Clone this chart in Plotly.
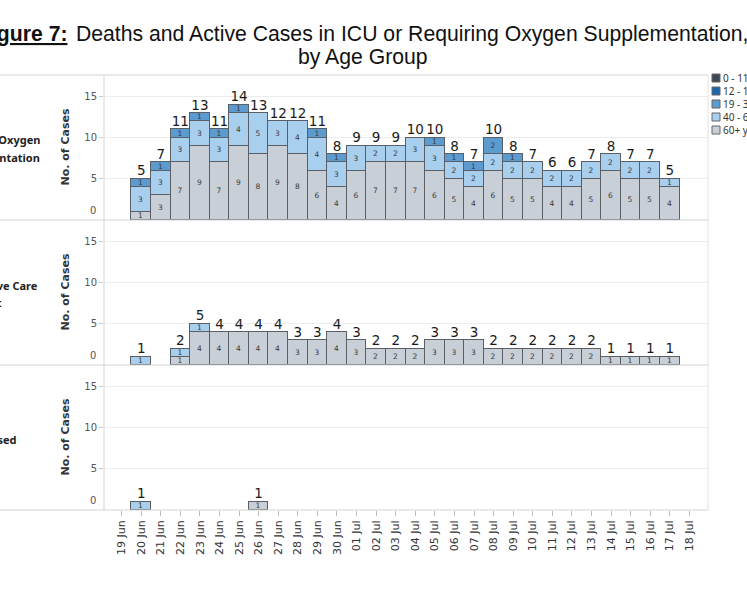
import plotly.graph_objects as go
from plotly.subplots import make_subplots

dates = ["19 Jun", "20 Jun", "21 Jun", "22 Jun", "23 Jun", "24 Jun", "25 Jun", "26 Jun",
         "27 Jun", "28 Jun", "29 Jun", "30 Jun", "01 Jul", "02 Jul", "03 Jul", "04 Jul",
         "05 Jul", "06 Jul", "07 Jul", "08 Jul", "09 Jul", "10 Jul", "11 Jul", "12 Jul",
         "13 Jul", "14 Jul", "15 Jul", "16 Jul", "17 Jul", "18 Jul"]

age_groups = ["0 - 11", "12 - 18", "19 - 39", "40 - 60", "60+ years"]
age_colors = ["#3f4955", "#1f66a8", "#5b9bd0", "#a9cfee", "#c9cfd7"]

# Panel 1: requiring oxygen supplementation
oxy_60plus = [0, 1, 3, 7, 9, 7, 9, 8, 9, 8, 6, 4, 6, 7, 7, 7, 6, 5, 4, 6, 5, 5, 4, 4, 5, 6, 5, 5, 4, 0]
oxy_40_60 = [0, 3, 3, 3, 3, 3, 4, 5, 3, 4, 4, 3, 3, 2, 2, 3, 3, 2, 2, 2, 2, 2, 2, 2, 2, 2, 2, 2, 1, 0]
oxy_19_39 = [0, 1, 1, 1, 1, 1, 1, 0, 0, 0, 1, 1, 0, 0, 0, 0, 1, 1, 1, 2, 1, 0, 0, 0, 0, 0, 0, 0, 0, 0]

# Panel 2: intensive care unit
icu_60plus = [0, 0, 0, 1, 4, 4, 4, 4, 4, 3, 3, 4, 3, 2, 2, 2, 3, 3, 3, 2, 2, 2, 2, 2, 2, 1, 1, 1, 1, 0]
icu_40_60 = [0, 1, 0, 1, 1, 0, 0, 0, 0, 0, 0, 0, 0, 0, 0, 0, 0, 0, 0, 0, 0, 0, 0, 0, 0, 0, 0, 0, 0, 0]

# Panel 3: deceased
dec_60plus = [0, 0, 0, 0, 0, 0, 0, 1, 0, 0, 0, 0, 0, 0, 0, 0, 0, 0, 0, 0, 0, 0, 0, 0, 0, 0, 0, 0, 0, 0]
dec_40_60 = [0, 1, 0, 0, 0, 0, 0, 0, 0, 0, 0, 0, 0, 0, 0, 0, 0, 0, 0, 0, 0, 0, 0, 0, 0, 0, 0, 0, 0, 0]

panels = [
    [("60+ years", oxy_60plus), ("40 - 60", oxy_40_60), ("19 - 39", oxy_19_39)],
    [("60+ years", icu_60plus), ("40 - 60", icu_40_60)],
    [("60+ years", dec_60plus), ("40 - 60", dec_40_60)],
]

W, H = 747, 598
ML, MR, MT, MB = 104, 39, 75, 88
PW, PH = W - ML - MR, H - MT - MB


def px2x(px):
    return (px - ML) / PW


def px2y(py):
    return (H - MB - py) / PH


color_of = dict(zip(age_groups, age_colors))

fig = make_subplots(rows=3, cols=1, shared_xaxes=True, vertical_spacing=0)

for r, series in enumerate(panels, start=1):
    totals = [0] * len(dates)
    for name, vals in series:
        yv = [v if v else None for v in vals]
        fig.add_trace(go.Bar(
            x=dates, y=yv, name=name,
            marker=dict(color=color_of[name], line=dict(color="#5a5f66", width=1)),
            text=[str(v) if v else "" for v in vals],
            textposition="inside", insidetextanchor="middle", textangle=0,
            constraintext="none",
            textfont=dict(family="DejaVu Sans", size=7.5, color="#3a3a3a"),
            showlegend=False, hoverinfo="skip",
        ), row=r, col=1)
        totals = [t + v for t, v in zip(totals, vals)]
    tx = [d for d, t in zip(dates, totals) if t > 0]
    ty = [t for t in totals if t > 0]
    fig.add_trace(go.Scatter(
        x=tx, y=ty, mode="text", text=[str(t) for t in ty],
        textposition="top center", cliponaxis=False,
        textfont=dict(family="DejaVu Sans", size=13.5, color="#1a1a1a"),
        showlegend=False, hoverinfo="skip",
    ), row=r, col=1)

fig.update_layout(
    width=W, height=H,
    margin=dict(l=ML, r=MR, t=MT, b=MB, pad=0),
    barmode="stack", bargap=0,
    plot_bgcolor="white", paper_bgcolor="white",
    font=dict(family="DejaVu Sans", color="#333"),
)

for r in (1, 2, 3):
    fig.update_yaxes(
        range=[0, 17.6], tickvals=[5, 10, 15], ticks="outside", ticklen=4,
        tickcolor="#c8c8c8", showgrid=True, gridcolor="#ededed", gridwidth=1,
        zeroline=False, showline=False,
        tickfont=dict(family="DejaVu Sans", size=10, color="#555"),
        row=r, col=1)
    fig.update_xaxes(
        type="category", categoryorder="array", categoryarray=dates,
        range=[-0.9, 29.95], showgrid=False, zeroline=False, showline=False,
        row=r, col=1)

fig.update_xaxes(ticks="outside", ticklen=5, tickcolor="#bdbdbd", tickangle=-90,
                 tickfont=dict(family="DejaVu Sans", size=11, color="#333"),
                 showticklabels=True, row=3, col=1)
fig.update_xaxes(showticklabels=False, ticks="", row=1, col=1)
fig.update_xaxes(showticklabels=False, ticks="", row=2, col=1)

annotations = []
shapes = []

# Title (cut off at both edges, as in the reference)
title_font = dict(family="Liberation Sans", size=21.2, color="#111")
annotations.append(dict(
    xref="paper", yref="paper", x=px2x(69), y=px2y(34), xanchor="right", yanchor="middle",
    text="<b><u>Figure 7:</u></b>", showarrow=False, font=title_font))
annotations.append(dict(
    xref="paper", yref="paper", x=px2x(74), y=px2y(34), xanchor="left", yanchor="middle",
    text="Deaths and Active Cases in ICU or Requiring Oxygen Supplementation,",
    showarrow=False, font=title_font))
annotations.append(dict(
    xref="paper", yref="paper", x=px2x(363), y=px2y(57), xanchor="center", yanchor="middle",
    text="by Age Group", showarrow=False, font=title_font))

# Panel boundaries (pixels)
bounds = [75, 220, 365, 510]
panel_tops = bounds[:3]
panel_bottoms = bounds[1:]

# Borders
for yb in bounds:
    shapes.append(dict(type="line", xref="paper", yref="paper", x0=px2x(0), x1=1,
                       y0=px2y(yb), y1=px2y(yb), line=dict(color="#d4d4d4", width=1)))
shapes.append(dict(type="line", xref="paper", yref="paper", x0=0, x1=0, y0=0, y1=1,
                   line=dict(color="#d4d4d4", width=1)))
shapes.append(dict(type="line", xref="paper", yref="paper", x0=1, x1=1, y0=0, y1=1,
                   line=dict(color="#e2e2e2", width=1)))

# Axis titles and "0" labels
for top, bot in zip(panel_tops, panel_bottoms):
    annotations.append(dict(
        xref="paper", yref="paper", x=px2x(65), y=px2y((top + bot) / 2),
        xanchor="center", yanchor="middle", textangle=-90,
        text="<b>No. of Cases</b>", showarrow=False,
        font=dict(family="DejaVu Sans", size=11, color="#333")))
    annotations.append(dict(
        xref="paper", yref="paper", x=px2x(98), y=px2y(bot - 2),
        xanchor="right", yanchor="bottom", text="0", showarrow=False,
        font=dict(family="DejaVu Sans", size=10, color="#555")))

# Row headers (cut off at left edge)
row_lines = [
    ("Requiring Oxygen", 42, 139),
    ("Supplementation", 42, 157),
    ("Intensive Care", 40, 285),
    ("Unit", 4, 302),
    ("Deceased", 19, 439),
]
for txt, xe, yc in row_lines:
    annotations.append(dict(
        xref="paper", yref="paper", x=px2x(xe), y=px2y(yc),
        xanchor="right", yanchor="middle", text="<b>" + txt + "</b>", showarrow=False,
        font=dict(family="Noto Sans", size=11, color="#222")))

# Manual legend (cut off at right edge)
leg_y = [78, 91, 104, 117, 130]
for name, col, yc in zip(age_groups, age_colors, leg_y):
    shapes.append(dict(type="rect", xref="paper", yref="paper",
                       x0=px2x(712), x1=px2x(720), y0=px2y(yc + 4), y1=px2y(yc - 4),
                       fillcolor=col, line=dict(color="#666", width=1)))
    annotations.append(dict(
        xref="paper", yref="paper", x=px2x(721), y=px2y(yc),
        xanchor="left", yanchor="middle", text=name, showarrow=False,
        font=dict(family="Noto Sans", size=10, color="#333")))

fig.update_layout(annotations=annotations, shapes=shapes)

fig.write_html("out.html",
               config={"displayModeBar": False},
               post_script="document.body.style.margin='0';"
                           "document.body.style.overflow='hidden';")
